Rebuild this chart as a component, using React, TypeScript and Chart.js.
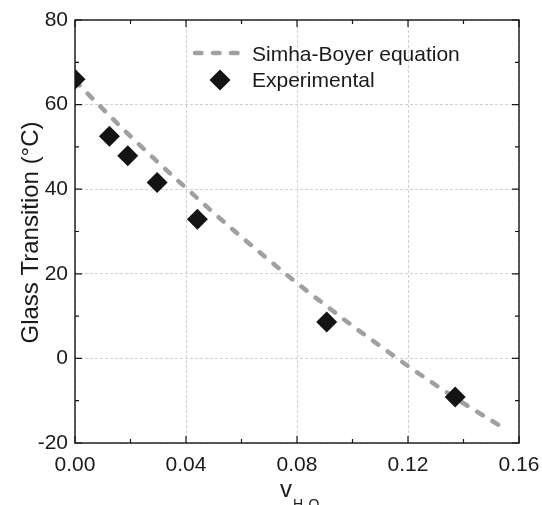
import React, { useEffect, useRef } from "react";
import { Chart, registerables } from "chart.js";

Chart.register(...registerables);

const expX = [0, 0.0124, 0.019, 0.0296, 0.0441, 0.0907, 0.137];
const expY = [66, 52.5, 47.9, 41.6, 32.9, 8.6, -9.1];

const curveX = [0, 0.01, 0.02, 0.03, 0.04, 0.05, 0.06, 0.07, 0.08, 0.09, 0.1, 0.11, 0.12, 0.13, 0.14, 0.1528];
const curveY = [65.6, 59.0, 52.5, 46.3, 40.3, 34.4, 28.7, 23.2, 17.8, 12.7, 7.7, 2.9, -1.8, -6.3, -10.6, -15.8];

const xTicks = [0, 0.04, 0.08, 0.12, 0.16];
const yTicks = [-20, 0, 20, 40, 60, 80];

const FONT = "'Liberation Sans', Arial, Helvetica, sans-serif";
const INK = "#1a1a1a";
const CURVE = "#a0a0a0";

const decor = {
  id: "decor",
  afterDraw(chart: any) {
    const ctx = chart.ctx as CanvasRenderingContext2D;
    const { left, right, top, bottom } = chart.chartArea;
    const xs = chart.scales.x;
    const ys = chart.scales.y;
    ctx.save();
    ctx.strokeStyle = "#161616";
    ctx.lineWidth = 1.4;
    ctx.strokeRect(left, top, right - left, bottom - top);
    ctx.lineWidth = 1.2;
    for (let i = 0; i <= 8; i++) {
      const px = xs.getPixelForValue(i * 0.02);
      const len = i % 2 === 0 ? 7 : 4;
      ctx.beginPath();
      ctx.moveTo(px, bottom);
      ctx.lineTo(px, bottom - len);
      ctx.moveTo(px, top);
      ctx.lineTo(px, top + len);
      ctx.stroke();
    }
    for (let i = 0; i <= 10; i++) {
      const py = ys.getPixelForValue(-20 + i * 10);
      const len = i % 2 === 0 ? 7 : 4;
      ctx.beginPath();
      ctx.moveTo(left, py);
      ctx.lineTo(left + len, py);
      ctx.moveTo(right, py);
      ctx.lineTo(right - len, py);
      ctx.stroke();
    }
    // y title
    ctx.fillStyle = INK;
    ctx.font = `24px ${FONT}`;
    ctx.textAlign = "center";
    ctx.textBaseline = "alphabetic";
    ctx.save();
    ctx.translate(37.5, (top + bottom) / 2 + 1);
    ctx.rotate(-Math.PI / 2);
    ctx.fillText("Glass Transition (°C)", 0, 0);
    ctx.restore();
    // x title
    const cx = (left + right) / 2;
    ctx.textAlign = "left";
    ctx.font = `24px ${FONT}`;
    ctx.fillText("v", cx - 17, 497);
    ctx.font = `14px ${FONT}`;
    ctx.fillText("H₂O", cx - 4, 509);
    // legend
    ctx.strokeStyle = CURVE;
    ctx.lineWidth = 4.5;
    ctx.lineCap = "round";
    ctx.setLineDash([6.5, 11.5]);
    ctx.beginPath();
    ctx.moveTo(195, 53);
    ctx.lineTo(238, 53);
    ctx.stroke();
    ctx.setLineDash([]);
    ctx.fillStyle = "#141414";
    const dx = 220, dy = 80, r = 10.5;
    ctx.beginPath();
    ctx.moveTo(dx, dy - r);
    ctx.lineTo(dx + r, dy);
    ctx.lineTo(dx, dy + r);
    ctx.lineTo(dx - r, dy);
    ctx.closePath();
    ctx.fill();
    ctx.fillStyle = INK;
    ctx.font = `21px ${FONT}`;
    ctx.textBaseline = "alphabetic";
    ctx.fillText("Simha-Boyer equation", 252, 60.5);
    ctx.fillText("Experimental", 252, 87);
    ctx.restore();
  },
};

export default function App() {
  const ref = useRef<HTMLCanvasElement>(null);
  useEffect(() => {
    if (!ref.current) return;
    const chart = new Chart(ref.current, {
      type: "scatter",
      data: {
        datasets: [
          {
            type: "line",
            label: "Simha-Boyer equation",
            data: curveX.map((x, i) => ({ x, y: curveY[i] })),
            borderColor: CURVE,
            borderWidth: 4.5,
            borderDash: [6.5, 11.5],
            borderCapStyle: "round",
            pointRadius: 0,
            cubicInterpolationMode: "monotone",
            fill: false,
            clip: 0,
            order: 2,
          } as any,
          {
            label: "Experimental",
            data: expX.map((x, i) => ({ x, y: expY[i] })),
            pointStyle: "rectRot",
            pointRadius: 10.5,
            backgroundColor: "#141414",
            borderColor: "#141414",
            borderWidth: 0,
            clip: 0,
            order: 1,
          } as any,
        ],
      },
      options: {
        responsive: false,
        animation: false,
        layout: { padding: { top: 20, right: 23, left: 0, bottom: 0 } },
        plugins: { legend: { display: false }, tooltip: { enabled: false } },
        scales: {
          x: {
            type: "linear",
            min: 0,
            max: 0.16,
            afterBuildTicks: (s: any) => {
              s.ticks = xTicks.map((v) => ({ value: v }));
            },
            afterFit: (s: any) => {
              s.height = 62;
              s.paddingLeft = 0;
              s.paddingRight = 0;
            },
            ticks: {
              padding: 10,
              color: INK,
              font: { family: FONT, size: 21 },
              maxRotation: 0,
              autoSkip: false,
              callback: (v: any) => Number(v).toFixed(2),
            },
            grid: { color: "#d0d0d0", drawTicks: false, lineWidth: 1 },
            border: { display: false, dash: [3, 2] },
          },
          y: {
            type: "linear",
            min: -20,
            max: 80,
            afterBuildTicks: (s: any) => {
              s.ticks = yTicks.map((v) => ({ value: v }));
            },
            afterFit: (s: any) => {
              s.width = 75;
              s.paddingTop = 0;
              s.paddingBottom = 0;
            },
            ticks: {
              padding: 7,
              color: INK,
              font: { family: FONT, size: 21 },
              autoSkip: false,
            },
            grid: { color: "#d0d0d0", drawTicks: false, lineWidth: 1 },
            border: { display: false, dash: [3, 2] },
          },
        },
      },
      plugins: [decor],
    });
    return () => chart.destroy();
  }, []);
  return (
    <div style={{ position: "fixed", left: 0, top: 0, width: 542, height: 505, background: "#fff" }}>
      <canvas ref={ref} width={542} height={505} />
    </div>
  );
}
